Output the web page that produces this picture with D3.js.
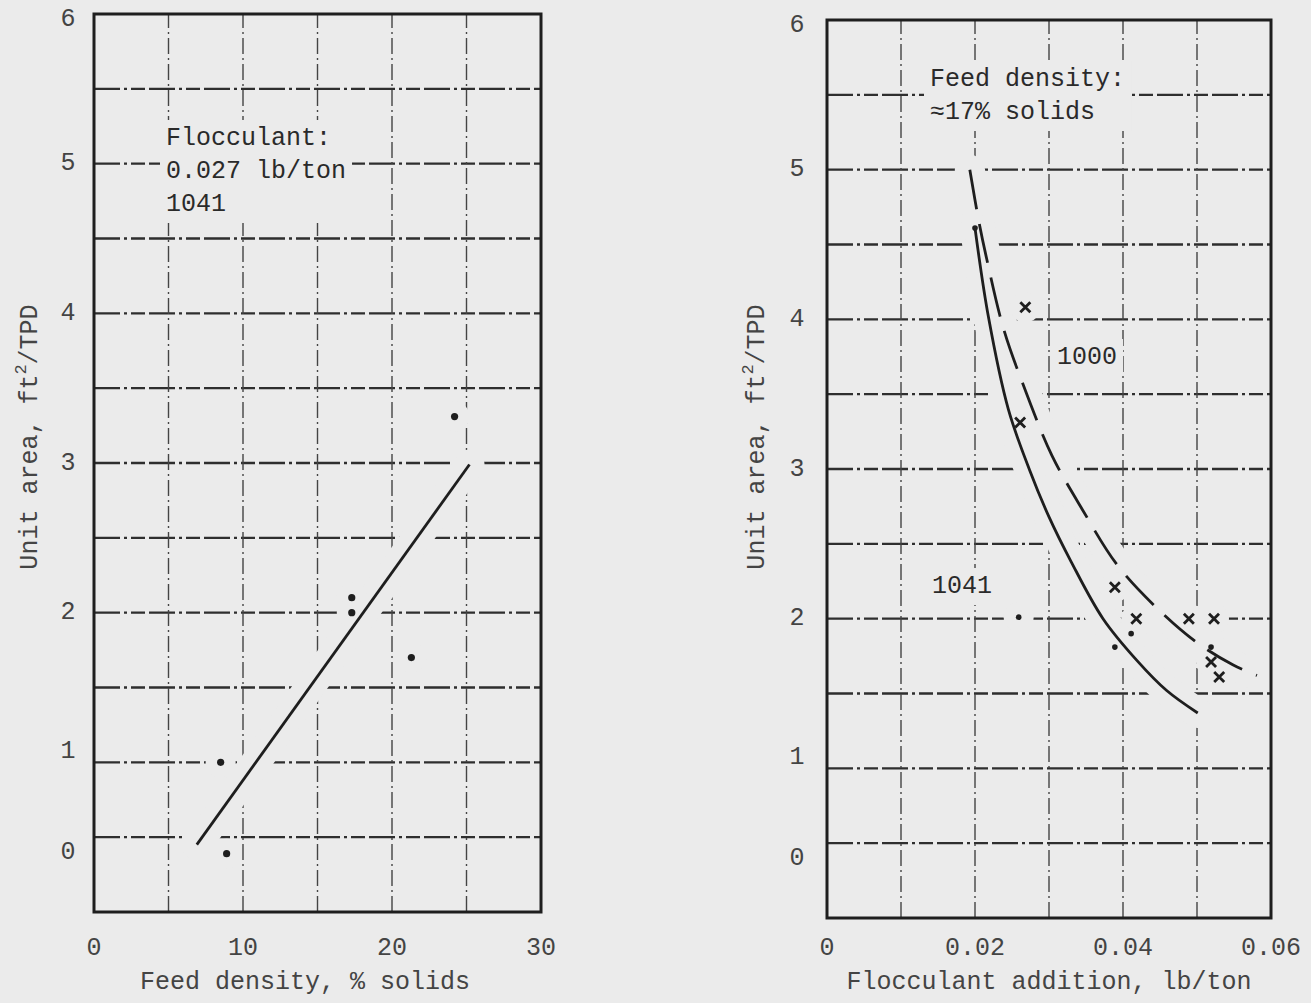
<!DOCTYPE html>
<html>
<head>
<meta charset="utf-8">
<script src="https://cdn.jsdelivr.net/npm/d3@7"></script>
<style>
  html, body { margin: 0; background: #ebebeb; }
  svg { display: block; }
  text { font-family: "Liberation Mono", "DejaVu Sans Mono", monospace; }
</style>
</head>
<body>
<svg id="chart" width="1311" height="1003"></svg>
<script>
// left panel: unit area vs feed density, flocculant 1041 at 0.027 lb/ton
const densityX = [24.2, 17.3, 17.3, 21.3, 8.5, 8.9];
const densityY = [3.31, 2.10, 2.00, 1.70, 1.00, 0.39];
const densityFitX = [6.9, 25.2];
const densityFitY = [0.45, 2.99];

// right panel: unit area vs flocculant addition, feed about 17% solids
const curve1041X = [0.0200, 0.0218, 0.0245, 0.0274, 0.0300, 0.0330, 0.0373, 0.0419, 0.0459, 0.0501];
const curve1041Y = [4.61, 4.02, 3.40, 2.99, 2.68, 2.38, 2.00, 1.72, 1.52, 1.37];
const curve1000X = [0.0193, 0.0205, 0.0216, 0.0239, 0.0270, 0.0304, 0.0345, 0.0392, 0.0446, 0.0500, 0.0549, 0.0581];
const curve1000Y = [5.00, 4.66, 4.40, 3.93, 3.50, 3.09, 2.73, 2.36, 2.07, 1.84, 1.69, 1.62];
const points1000X = [0.0268, 0.0261, 0.0389, 0.0418, 0.0489, 0.0523, 0.0519, 0.0530];
const points1000Y = [4.08, 3.31, 2.21, 2.00, 2.00, 2.00, 1.71, 1.61];
const points1041X = [0.0200, 0.0259, 0.0411, 0.0389, 0.0519];
const points1041Y = [4.61, 2.01, 1.90, 1.81, 1.81];

// axes
const areaGrid = d3.range(0.5, 6, 0.5);
const densityGrid = [5, 10, 15, 20, 25];
const flocGrid = [0.01, 0.02, 0.03, 0.04, 0.05];
const densityTicks = [0, 10, 20, 30];
const flocTicks = [0, 0.02, 0.04, 0.06];
const flocTickText = ["0", "0.02", "0.04", "0.06"];
const areaTickText = ["6", "5", "4", "3", "2", "1", "0"];
const areaTickAt = [5.96, 5, 4, 3, 2, 1.07, 0.4]; // where the scan prints them

const bg = "#ebebeb", ink = "#1e1e1e";
const svg = d3.select("#chart");

function panel(opt) {
  const { x, y } = opt;
  const g = svg.append("g");
  const [x0, x1] = x.range(), [y0, y1] = y.range();

  // grid
  g.selectAll(null).data(areaGrid).join("line")
    .attr("x1", x0).attr("x2", x1)
    .attr("y1", d => y(d)).attr("y2", d => y(d))
    .attr("stroke", "#2e2e2e").attr("stroke-width", 2.4)
    .attr("stroke-dasharray", "26,4,3,4,14,4");
  g.selectAll(null).data(opt.xGrid).join("line")
    .attr("x1", d => x(d)).attr("x2", d => x(d))
    .attr("y1", y0).attr("y2", y1)
    .attr("stroke", "#444").attr("stroke-width", 1.4)
    .attr("stroke-dasharray", "16,4,2,4");

  // halos that break the grid where marks cross it
  const line = d3.line().x(d => x(d[0])).y(d => y(d[1]))
    .curve(d3.curveCatmullRom.alpha(0.5));
  opt.lines.forEach(l => g.append("path").attr("d", line(l.pts))
    .attr("fill", "none").attr("stroke", bg).attr("stroke-width", 30)
    .attr("stroke-linecap", "round"));
  opt.points.forEach(p => g.selectAll(null).data(p.pts).join("circle")
    .attr("cx", d => x(d[0])).attr("cy", d => y(d[1])).attr("r", 15)
    .attr("fill", bg));

  g.append("rect").attr("x", x0).attr("y", y1)
    .attr("width", x1 - x0).attr("height", y0 - y1)
    .attr("fill", "none").attr("stroke", ink).attr("stroke-width", 3);

  opt.lines.forEach(l => g.append("path").attr("d", line(l.pts))
    .attr("fill", "none").attr("stroke", ink).attr("stroke-width", 2.8)
    .attr("stroke-dasharray", l.dash || null));

  opt.points.forEach(p => {
    const s = g.selectAll(null).data(p.pts).join("g")
      .attr("transform", d => `translate(${x(d[0])},${y(d[1])})`);
    if (p.kind === "cross") {
      s.append("path").attr("d", "M-5,-5L5,5M-5,5L5,-5")
        .attr("stroke", ink).attr("stroke-width", 2.8);
    } else {
      s.append("circle").attr("r", p.r).attr("fill", ink);
    }
  });

  // annotations with a clean patch behind them
  opt.notes.forEach(n => {
    const t = g.append("text").attr("x", n.x).attr("y", n.y)
      .attr("font-size", 25).attr("fill", "#2a2a2a");
    n.lines.forEach((s, i) => t.append("tspan")
      .attr("x", n.x).attr("dy", i ? 33 : 0).text(s));
    const b = t.node().getBBox();
    g.insert("rect", () => t.node())
      .attr("x", b.x - 6).attr("y", b.y - 4)
      .attr("width", b.width + 12).attr("height", b.height + 8)
      .attr("fill", bg);
  });

  // tick labels
  g.selectAll(null).data(areaTickText).join("text")
    .attr("x", opt.yLabelX).attr("y", (d, i) => y(areaTickAt[i]))
    .attr("text-anchor", "middle").attr("dominant-baseline", "central")
    .attr("font-size", 25).attr("fill", "#444").text(d => d);
  g.selectAll(null).data(opt.xTicks).join("text")
    .attr("x", d => x(d)).attr("y", 948)
    .attr("text-anchor", "middle").attr("dominant-baseline", "central")
    .attr("font-size", 25).attr("fill", "#444")
    .text((d, i) => opt.xTickText[i]);

  // titles
  g.append("text").attr("x", opt.xTitleX).attr("y", 982)
    .attr("text-anchor", "middle").attr("dominant-baseline", "central")
    .attr("font-size", 25).attr("fill", "#444").text(opt.xTitle);
  const yt = g.append("text")
    .attr("transform", `translate(${opt.yTitleX},437) rotate(-90)`)
    .attr("text-anchor", "middle").attr("dominant-baseline", "central")
    .attr("font-size", 25).attr("fill", "#444");
  yt.append("tspan").text("Unit area, ft");
  yt.append("tspan").attr("dy", -9).attr("font-size", 17).text("2");
  yt.append("tspan").attr("dy", 9).text("/TPD");
}

panel({
  x: d3.scaleLinear([0, 30], [94, 541]),
  y: d3.scaleLinear([0, 6], [912, 14]),
  xGrid: densityGrid,
  xTicks: densityTicks,
  xTickText: densityTicks.map(String),
  yLabelX: 68,
  xTitle: "Feed density, % solids", xTitleX: 305,
  yTitleX: 30,
  lines: [{ pts: d3.zip(densityFitX, densityFitY) }],
  points: [{ kind: "dot", r: 3.6, pts: d3.zip(densityX, densityY) }],
  notes: [{ x: 166, y: 145, lines: ["Flocculant:", "0.027 lb/ton", "1041"] }]
});

panel({
  x: d3.scaleLinear([0, 0.06], [827, 1271]),
  y: d3.scaleLinear([0, 6], [918, 20]),
  xGrid: flocGrid,
  xTicks: flocTicks,
  xTickText: flocTickText,
  yLabelX: 797,
  xTitle: "Flocculant addition, lb/ton", xTitleX: 1049,
  yTitleX: 757,
  lines: [
    { pts: d3.zip(curve1041X, curve1041Y) },
    { pts: d3.zip(curve1000X, curve1000Y), dash: "40,15" }
  ],
  points: [
    { kind: "cross", pts: d3.zip(points1000X, points1000Y) },
    { kind: "dot", r: 2.8, pts: d3.zip(points1041X, points1041Y) }
  ],
  notes: [
    { x: 930, y: 86, lines: ["Feed density:", "\u224817% solids"] },
    { x: 1057, y: 364, lines: ["1000"] },
    { x: 932, y: 593, lines: ["1041"] }
  ]
});
</script>
</body>
</html>
